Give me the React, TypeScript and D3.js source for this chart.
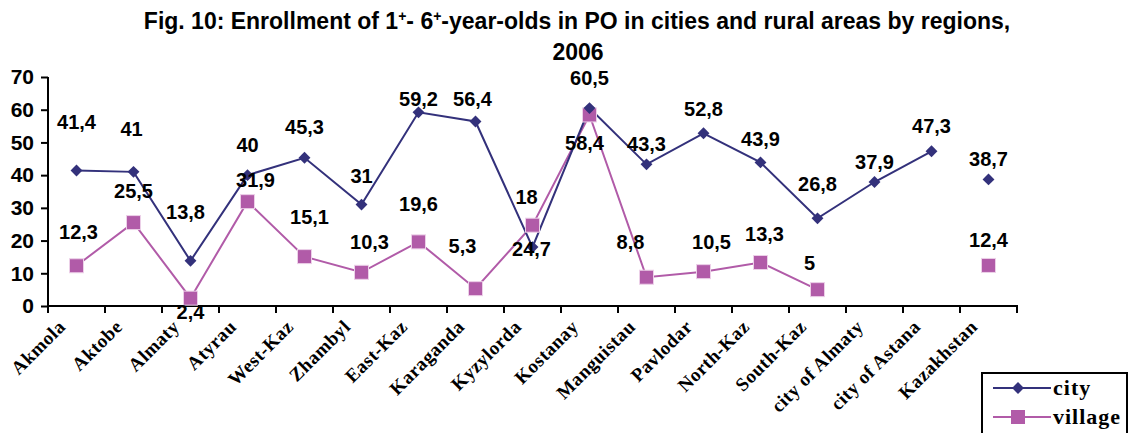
import React, { useEffect, useRef } from 'react';
import * as d3 from 'd3';

const regions = [
  'Akmola', 'Aktobe', 'Almaty', 'Atyrau', 'West-Kaz', 'Zhambyl', 'East-Kaz',
  'Karaganda', 'Kyzylorda', 'Kostanay', 'Manguistau', 'Pavlodar', 'North-Kaz',
  'South-Kaz', 'city of Almaty', 'city of Astana', 'Kazakhstan'
];
const city = [41.4, 41, 13.8, 40, 45.3, 31, 59.2, 56.4, 18, 60.5, 43.3, 52.8, 43.9, 26.8, 37.9, 47.3, 38.7];
const village = [12.3, 25.5, 2.4, 31.9, 15.1, 10.3, 19.6, 5.3, 24.7, 58.4, 8.8, 10.5, 13.3, 5, null, null, 12.4];
const yTicks = [0, 10, 20, 30, 40, 50, 60, 70];
// the national total is not joined to the regional lines
const totalName = 'Kazakhstan';

// label nudges (dx, dy from the marker), like moved Excel data labels
const cityNudge = [
  [0, -49], [-2, -43], [-5, -49], [0, -30], [0, -31], [0, -29], [0, -13],
  [-3, -22], [-6, -50], [0, -30], [0, -20], [0, -24], [0, -23], [0, -34],
  [0, -20], [0, -25], [0, -20]
];
const villageNudge = [
  [2, -34], [0, -32], [0, 14], [8, -22], [5, -40], [8, -30], [0, -38],
  [-13, -43], [-1, 24], [-5, 28], [-16, -35], [8, -30], [4, -28], [-8, -27],
  [0, 0], [0, 0], [0, -25]
];

const W = 1129;
const H = 433;
const CITY = '#33317b';
const VILLAGE = '#b15ba8';
const SANS = 'Liberation Sans, Arial, sans-serif';
const SERIF = 'Liberation Serif, Times New Roman, serif';

const fmt = (v: number) => String(v).replace('.', ',');

export default function App() {
  const ref = useRef<SVGSVGElement>(null);

  useEffect(() => {
    const svg = d3.select(ref.current);
    svg.selectAll('*').remove();

    const x = d3.scaleBand().domain(regions).range([48, 1017]);
    const y = d3.scaleLinear().domain([0, 70]).range([306, 77]);
    const cx = (name: string) => (x(name) as number) + x.bandwidth() / 2;

    // title
    const title = svg.append('text')
      .attr('x', 577)
      .attr('y', 29)
      .attr('text-anchor', 'middle')
      .attr('font-family', SANS)
      .attr('font-weight', 'bold')
      .attr('font-size', 23);
    title.append('tspan').text('Fig. 10: Enrollment of 1');
    title.append('tspan').attr('dy', -8).attr('font-size', 14).text('+');
    title.append('tspan').attr('dy', 8).text('- 6');
    title.append('tspan').attr('dy', -8).attr('font-size', 14).text('+');
    title.append('tspan').attr('dy', 8).text('-year-olds in PO in cities and rural areas by regions,');
    svg.append('text')
      .attr('x', 578)
      .attr('y', 60)
      .attr('text-anchor', 'middle')
      .attr('font-family', SANS)
      .attr('font-weight', 'bold')
      .attr('font-size', 23)
      .text('2006');

    // y axis
    const yAxis = svg.append('g').attr('transform', 'translate(48,0)')
      .call(d3.axisLeft(y).tickValues(yTicks).tickSize(7).tickPadding(7));
    yAxis.select('.domain').attr('stroke', '#000').attr('stroke-width', 2)
      .attr('d', `M0,${y(70)}V${y(0)}`);
    yAxis.selectAll('.tick line').attr('stroke', '#000').attr('stroke-width', 2);
    yAxis.selectAll('.tick text')
      .attr('font-family', SANS)
      .attr('font-weight', 'bold')
      .attr('font-size', 21)
      .attr('fill', '#000');

    // x axis
    const xAxis = svg.append('g').attr('transform', `translate(0,${y(0)})`);
    xAxis.append('line')
      .attr('x1', 47).attr('x2', 1018)
      .attr('stroke', '#000').attr('stroke-width', 2);
    xAxis.selectAll('.xt')
      .data(regions.concat(['']))
      .enter()
      .append('line')
      .attr('x1', (d, i) => 48 + i * x.step())
      .attr('x2', (d, i) => 48 + i * x.step())
      .attr('y1', 0)
      .attr('y2', 7)
      .attr('stroke', '#000')
      .attr('stroke-width', 2);
    xAxis.selectAll('.xl')
      .data(regions)
      .enter()
      .append('text')
      .attr('transform', (d) => `translate(${cx(d) - 10},${22}) rotate(-45)`)
      .attr('text-anchor', 'end')
      .attr('font-family', SERIF)
      .attr('font-weight', 'bold')
      .attr('font-size', 19)
      .attr('letter-spacing', 0.5)
      .text((d) => d);

    // lines
    const line = d3.line<[string, number | null]>()
      .defined((d) => d[1] !== null && d[0] !== totalName)
      .x((d) => cx(d[0]))
      .y((d) => y(d[1] as number));

    const cityPts = regions.map((r, i) => [r, city[i]] as [string, number | null]);
    const villagePts = regions.map((r, i) => [r, village[i]] as [string, number | null]);

    svg.append('path').datum(villagePts)
      .attr('d', line)
      .attr('fill', 'none')
      .attr('stroke', VILLAGE)
      .attr('stroke-width', 2);
    svg.append('path').datum(cityPts)
      .attr('d', line)
      .attr('fill', 'none')
      .attr('stroke', CITY)
      .attr('stroke-width', 2);

    const diamond = d3.symbol().type(d3.symbolDiamond2).size(90);

    svg.selectAll('.vm')
      .data(villagePts.filter((d) => d[1] !== null))
      .enter()
      .append('rect')
      .attr('x', (d) => cx(d[0]) - 7)
      .attr('y', (d) => y(d[1] as number) - 7)
      .attr('width', 14)
      .attr('height', 14)
      .attr('fill', VILLAGE)
      .attr('stroke', '#ecd0e8')
      .attr('stroke-width', 1);
    svg.selectAll('.cm')
      .data(cityPts)
      .enter()
      .append('path')
      .attr('d', diamond)
      .attr('transform', (d) => `translate(${cx(d[0])},${y(d[1] as number)})`)
      .attr('fill', CITY);

    const labelStyle = (sel: any) => sel
      .attr('text-anchor', 'middle')
      .attr('dy', '0.35em')
      .attr('font-family', SANS)
      .attr('font-weight', 'bold')
      .attr('font-size', 20)
      .attr('fill', '#000');

    svg.selectAll('.cl')
      .data(cityPts)
      .enter()
      .append('text')
      .attr('x', (d, i) => cx(d[0]) + cityNudge[i][0])
      .attr('y', (d, i) => y(d[1] as number) + cityNudge[i][1])
      .call(labelStyle)
      .text((d) => fmt(d[1] as number));
    svg.selectAll('.vl')
      .data(villagePts.map((d, i) => [d, i] as [[string, number | null], number]).filter((d) => d[0][1] !== null))
      .enter()
      .append('text')
      .attr('x', (d) => cx(d[0][0]) + villageNudge[d[1]][0])
      .attr('y', (d) => y(d[0][1] as number) + villageNudge[d[1]][1])
      .call(labelStyle)
      .text((d) => fmt(d[0][1] as number));

    // legend
    const lg = svg.append('g').attr('transform', 'translate(982,373)');
    lg.append('rect')
      .attr('x', 0).attr('y', 0).attr('width', 145).attr('height', 70)
      .attr('fill', '#fff').attr('stroke', '#000').attr('stroke-width', 2);
    const items = [
      { name: 'city', color: CITY, y: 15 },
      { name: 'village', color: VILLAGE, y: 44 }
    ];
    items.forEach((it) => {
      lg.append('line')
        .attr('x1', 11).attr('x2', 69).attr('y1', it.y).attr('y2', it.y)
        .attr('stroke', it.color).attr('stroke-width', 2);
      if (it.name === 'city') {
        lg.append('path').attr('d', diamond)
          .attr('transform', `translate(36,${it.y})`)
          .attr('fill', it.color);
      } else {
        lg.append('rect').attr('x', 29).attr('y', it.y - 7)
          .attr('width', 14).attr('height', 14)
          .attr('fill', it.color);
      }
      lg.append('text')
        .attr('x', 71).attr('y', it.y).attr('dy', '0.3em')
        .attr('font-family', SERIF)
        .attr('font-weight', 'bold')
        .attr('font-size', 22)
        .attr('letter-spacing', 1)
        .text(it.name);
    });
  }, []);

  return (
    <div style={{ position: 'absolute', left: 0, top: 0, background: '#fff' }}>
      <svg ref={ref} width={W} height={H} style={{ display: 'block' }} />
    </div>
  );
}
